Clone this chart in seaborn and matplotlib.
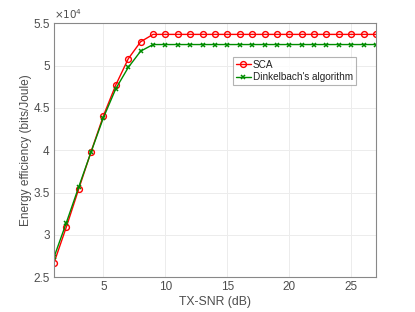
import numpy as np
import pandas as pd
import matplotlib
matplotlib.use("Agg")
import matplotlib.pyplot as plt
import seaborn as sns
from matplotlib.lines import Line2D

snr_db = list(range(1, 28))
sca = [2.666, 3.092, 3.542, 3.984, 4.41, 4.774, 5.082, 5.283] + [5.37] * 19
dinkelbach = [2.733, 3.143, 3.566, 3.98, 4.387, 4.73, 4.979, 5.172] + [5.25] * 19
sca = [v * 1e4 for v in sca]
dinkelbach = [v * 1e4 for v in dinkelbach]
series_names = ["SCA", "Dinkelbach's algorithm"]
x_ticks = [5, 10, 15, 20, 25]
y_ticks = [25000, 30000, 35000, 40000, 45000, 50000, 55000]
y_tick_labels = ["2.5", "3", "3.5", "4", "4.5", "5", "5.5"]

sns.set_theme(style="white")
plt.rcParams['font.family'] = ['Liberation Sans', 'DejaVu Sans']

red = "#ff0000"
green = "#008c00"
txt = "#4d4d4d"

fig = plt.figure(figsize=(4.15, 3.12), dpi=100)
ax = fig.add_axes([0.130, 0.112, 0.776, 0.813])

sns.lineplot(x=snr_db, y=sca, color=red, marker="o", markerfacecolor="none",
             markeredgecolor=red, markersize=4.2, markeredgewidth=1.0,
             linewidth=1.0, ax=ax)
sns.lineplot(x=snr_db, y=dinkelbach, color=green, marker="x",
             markeredgecolor=green, markersize=3.0, markeredgewidth=1.1,
             linewidth=1.0, ax=ax)

handles = [
    Line2D([], [], color=red, marker="o", markerfacecolor="none", markersize=4.2, lw=1.0),
    Line2D([], [], color=green, marker="x", markersize=3.0, markeredgewidth=1.1, lw=1.0),
]
leg = ax.legend(handles, series_names, loc="upper left", bbox_to_anchor=(0.555, 0.868),
                fontsize=7.2, frameon=True, fancybox=False, handlelength=1.5,
                handletextpad=0.2, borderpad=0.3, labelspacing=0.25, borderaxespad=0)
leg.get_frame().set_edgecolor("#a0a0a0")
leg.get_frame().set_linewidth(0.8)
for t in leg.get_texts():
    t.set_color("#222222")

ax.set_xlim(1, 27)
ax.set_ylim(25000, 55000)
ax.set_xticks(x_ticks)
ax.set_yticks(y_ticks)
ax.set_yticklabels(y_tick_labels)
ax.grid(True, color="#ececec", linewidth=0.7)
for s in ax.spines.values():
    s.set_color("#888888")
    s.set_linewidth(0.8)
ax.tick_params(axis="both", labelsize=8.5, colors=txt, direction="in", length=3,
               width=0.6, pad=3)
ax.set_xlabel("TX-SNR (dB)", fontsize=8.8, color=txt, labelpad=2)
ax.set_ylabel("Energy efficiency (bits/Joule)", fontsize=8.6, color=txt, labelpad=1)
ax.text(0.0, 1.008, r"$\times10^{4}$", transform=ax.transAxes, fontsize=7.5,
        color=txt, ha="left", va="bottom")

fig.savefig("out.png", dpi=100, facecolor="white")
